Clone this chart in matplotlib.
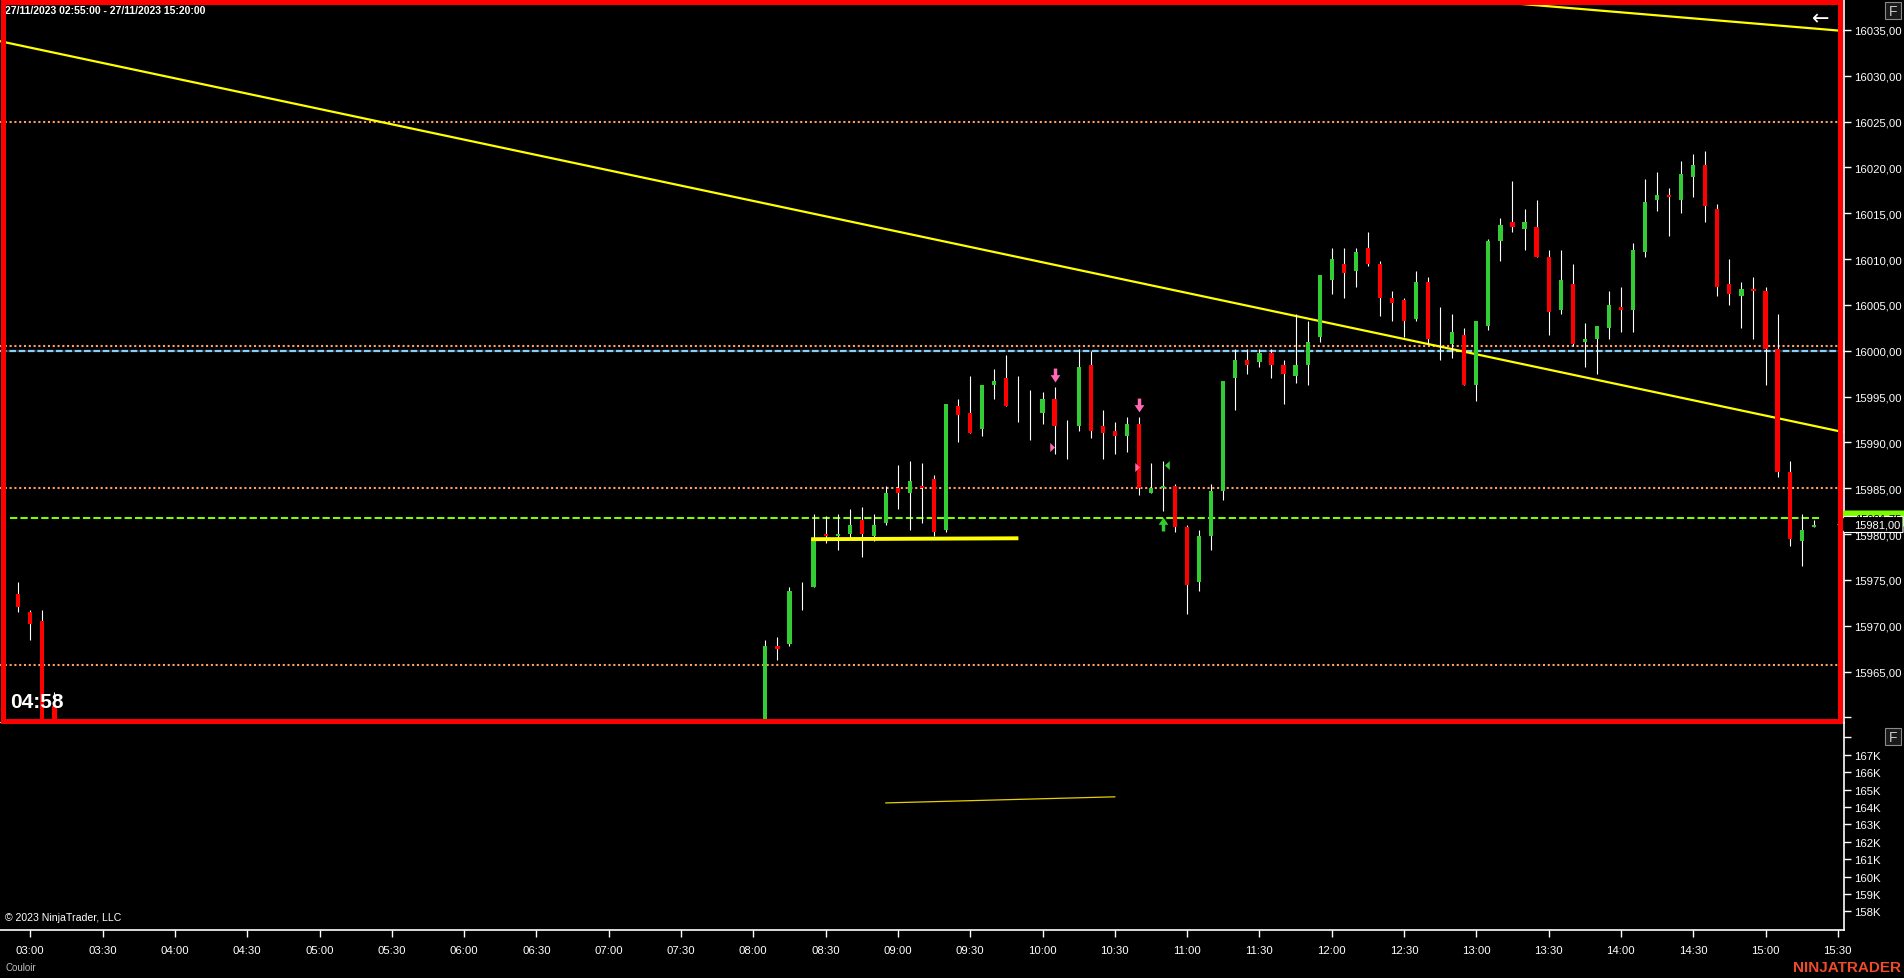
import numpy as np
import matplotlib.pyplot as plt
from matplotlib.patches import Rectangle, Polygon

plt.rcParams['font.family'] = ['Liberation Sans', 'DejaVu Sans']

# ---- data (NQ 5 min bars, 27/11/2023) ----
bar_times = [
    '02:55', '03:00', '03:05', '03:10',
    '08:05', '08:10', '08:15', '08:20', '08:25', '08:30', '08:35', '08:40', '08:45', '08:50', '08:55',
    '09:00', '09:05', '09:10', '09:15', '09:20', '09:25', '09:30', '09:35', '09:40', '09:45', '09:50', '09:55',
    '10:00', '10:05', '10:10', '10:15', '10:20', '10:25', '10:30', '10:35', '10:40', '10:45', '10:50', '10:55',
    '11:00', '11:05', '11:10', '11:15', '11:20', '11:25', '11:30', '11:35', '11:40', '11:45', '11:50', '11:55',
    '12:00', '12:05', '12:10', '12:15', '12:20', '12:25', '12:30', '12:35', '12:40', '12:45', '12:50', '12:55',
    '13:00', '13:05', '13:10', '13:15', '13:20', '13:25', '13:30', '13:35', '13:40', '13:45', '13:50', '13:55',
    '14:00', '14:05', '14:10', '14:15', '14:20', '14:25', '14:30', '14:35', '14:40', '14:45', '14:50', '14:55',
    '15:00', '15:05', '15:10', '15:15', '15:20',
]
opens = [
    15973.5, 15971.5, 15970.5, 15961.25,
    15958.0, 15967.75, 15968.0, 15974.0, 15974.25, 15980.0, 15979.75, 15980.0, 15981.5, 15979.75, 15981.25,
    15985.0, 15984.5, 15985.25, 15986.0, 15980.5, 15994.0, 15993.25, 15991.5, 15996.25, 15997.0, 15995.0, 15993.0,
    15993.25, 15994.75, 15990.0, 15991.75, 15998.5, 15991.75, 15991.25, 15990.75, 15992.0, 15984.5, 15985.0, 15985.25,
    15980.75, 15974.75, 15979.75, 15984.75, 15997.0, 15999.0, 15998.75, 15999.75, 15998.5, 15997.25, 15998.5, 16001.5,
    16007.75, 16009.5, 16008.75, 16011.25, 16009.5, 16005.75, 16005.5, 16003.5, 16007.5, 16001.0, 16000.75, 16001.75,
    15996.25, 16002.75, 16012.0, 16014.0, 16013.25, 16013.5, 16010.25, 16004.5, 16007.25, 16001.0, 16001.25, 16002.5,
    16004.75, 16004.5, 16010.75, 16016.5, 16017.0, 16016.5, 16019.0, 16020.25, 16015.5, 16007.25, 16006.0, 16006.75,
    16006.5, 16000.25, 15986.75, 15979.25, 15980.75,
]
highs = [
    15974.75, 15971.75, 15971.75, 15962.75,
    15968.5, 15968.75, 15974.25, 15974.75, 15982.25, 15982.0, 15982.25, 15982.75, 15983.0, 15982.25, 15985.25,
    15987.5, 15988.0, 15987.75, 15986.5, 15994.25, 15994.75, 15997.25, 15996.25, 15998.0, 15999.5, 15997.25, 15995.75,
    15995.5, 15996.0, 15992.5, 16000.25, 16000.0, 15993.5, 15992.25, 15992.75, 15992.75, 15987.75, 15988.0, 15985.5,
    15981.0, 15980.5, 15985.5, 15996.75, 16000.25, 16000.25, 16000.25, 16000.25, 15999.0, 16004.0, 16003.25, 16008.25,
    16011.25, 16011.25, 16011.25, 16013.0, 16009.75, 16006.5, 16005.75, 16008.75, 16008.0, 16004.75, 16004.0, 16002.5,
    16003.25, 16012.25, 16014.5, 16018.5, 16015.5, 16016.5, 16011.0, 16011.0, 16009.5, 16003.0, 16002.75, 16006.5,
    16007.0, 16011.75, 16018.75, 16019.5, 16017.75, 16020.75, 16021.5, 16021.75, 16016.0, 16010.0, 16007.5, 16008.0,
    16007.0, 16004.0, 15988.0, 15982.25, 15981.5,
]
lows = [
    15971.5, 15968.5, 15957.0, 15955.0,
    15957.0, 15966.25, 15967.75, 15971.75, 15974.25, 15979.0, 15978.25, 15979.5, 15977.5, 15979.25, 15981.0,
    15982.75, 15980.5, 15981.25, 15979.75, 15980.25, 15990.0, 15991.0, 15990.75, 15994.75, 15994.0, 15992.25, 15990.25,
    15992.0, 15988.75, 15988.25, 15991.25, 15990.5, 15988.25, 15988.75, 15989.0, 15984.25, 15984.5, 15982.5, 15980.25,
    15971.25, 15973.75, 15978.25, 15983.75, 15993.5, 15997.5, 15998.25, 15997.0, 15994.25, 15996.5, 15996.25, 16001.0,
    16006.25, 16005.75, 16007.0, 16009.25, 16003.75, 16003.25, 16001.5, 16003.25, 16000.75, 15999.0, 15999.25, 15996.25,
    15994.5, 16002.25, 16009.75, 16013.0, 16011.0, 16010.25, 16001.75, 16004.0, 16000.5, 15998.25, 15997.5, 16001.25,
    16002.0, 16002.0, 16010.25, 16015.25, 16012.5, 16015.0, 16016.75, 16014.0, 16006.0, 16005.0, 16002.5, 16001.25,
    15996.25, 15986.25, 15978.75, 15976.5, 15980.75,
]
closes = [
    15972.0, 15970.25, 15958.0, 15956.0,
    15967.75, 15967.5, 15973.75, 15974.0, 15979.5, 15979.75, 15980.0, 15981.0, 15980.0, 15981.0, 15984.5,
    15984.5, 15985.75, 15985.0, 15980.25, 15994.25, 15993.0, 15991.0, 15996.25, 15996.75, 15994.0, 15995.0, 15993.0,
    15994.75, 15991.75, 15990.0, 15998.25, 15991.25, 15991.0, 15990.75, 15992.0, 15985.0, 15985.0, 15985.25, 15980.75,
    15974.5, 15979.75, 15984.75, 15996.75, 15999.0, 15998.5, 15999.75, 15998.5, 15997.5, 15998.5, 16001.0, 16008.25,
    16010.0, 16008.5, 16010.75, 16009.5, 16005.75, 16005.25, 16003.25, 16007.5, 16001.25, 16001.0, 16002.0, 15996.25,
    16003.25, 16012.0, 16013.75, 16013.5, 16014.0, 16010.25, 16004.25, 16007.75, 16000.75, 16001.25, 16002.75, 16005.0,
    16004.5, 16011.0, 16016.25, 16017.0, 16016.75, 16019.25, 16020.25, 16015.75, 16007.0, 16006.25, 16006.75, 16006.5,
    16000.25, 15986.75, 15979.5, 15980.5, 15981.0,
]

dotted_levels = [16025.0, 16000.5, 15985.0, 15965.75]
blue_level = 16000.0
last_level = 15981.75
last_span = ['02:51:30', '15:22:00']
last_price = 15981.0

trend_long_t = ['02:47', '15:32']
trend_long_p = [16033.8, 15991.15]
trend_top_t = ['12:35', '15:32']
trend_top_p = [16038.8, 16034.9]
support_t = ['08:24', '09:50']
support_p = [15979.45, 15979.55]

down_arrow_t = ['10:05', '10:40']
down_arrow_p = [15997.4, 15994.1]
pink_tri_t = ['10:03:50', '10:39:05']
pink_tri_p = [15989.5, 15987.3]
green_tri_t = ['10:51:30']
green_tri_p = [15987.5]
up_arrow_t = ['10:50']
up_arrow_p = [15981.1]

price_ticks = [15960, 15965, 15970, 15975, 15980, 15985, 15990, 15995,
               16000, 16005, 16010, 16015, 16020, 16025, 16030, 16035]
vol_ticks = [158000, 159000, 160000, 161000, 162000, 163000, 164000,
             165000, 166000, 167000, 168000]
vol_line_t = ['08:55', '10:30']
vol_line_v = [164230, 164580]
time_labels = ['03:00', '03:30', '04:00', '04:30', '05:00', '05:30', '06:00', '06:30',
               '07:00', '07:30', '08:00', '08:30', '09:00', '09:30', '10:00', '10:30',
               '11:00', '11:30', '12:00', '12:30', '13:00', '13:30', '14:00', '14:30',
               '15:00', '15:30']

# ---- layout (pixels of the 1904x979 screenshot) ----
W, H = 1904, 979
X0 = 30.3       # pixel of 03:00
PPM = 2.41      # pixels per minute
PANEL_R = 1844
MAIN_B = 724
LOW_B = 931
GREEN = '#32CD32'
RED = '#FF0000'
PINK = '#FF69B4'


def to_min(s):
    parts = [int(v) for v in s.split(':')]
    sec = parts[2] if len(parts) > 2 else 0
    return (parts[0] - 3) * 60 + parts[1] + sec / 60.0


def fx(px):
    return px / W


def fy(py):
    return 1 - py / H


fig = plt.figure(figsize=(W / 100, H / 100), dpi=100, facecolor='black')
ax = fig.add_axes([0, fy(MAIN_B), fx(PANEL_R), MAIN_B / H])
vax = fig.add_axes([0, fy(LOW_B), fx(PANEL_R), (LOW_B - MAIN_B) / H])

for a in (ax, vax):
    a.set_facecolor('black')
    a.spines['left'].set_visible(False)
    a.spines['top'].set_visible(False)
    a.spines['right'].set_color('white')
    a.spines['bottom'].set_color('white')
    a.spines['right'].set_linewidth(1.2)
    a.spines['bottom'].set_linewidth(1.2)
    a.set_xlim(-X0 / PPM, (PANEL_R - X0) / PPM)
    a.yaxis.tick_right()
    a.tick_params(axis='y', colors='white', length=5, width=1, pad=2, labelsize=8.2)

# ---- price panel ----
ax.set_ylim(15959.4, 16038.38)
ax.set_yticks(price_ticks)
ax.set_yticklabels(['' if v == 15960 else f'{v:.2f}'.replace('.', ',') for v in price_ticks])
ax.tick_params(axis='x', bottom=False, labelbottom=False)

for lvl in dotted_levels:
    ax.axhline(lvl, color='#FFA060', lw=1.5, linestyle=(0, (1, 1.3)), zorder=1)
ax.axhline(blue_level, color='#87CEFA', lw=1.6, linestyle=(0, (3, 1.2)), gapcolor='#303030', zorder=1)
ax.plot([to_min(s) for s in last_span], [last_level, last_level], color='#7CFC00', lw=1.5,
        linestyle=(0, (3.5, 1.5)), zorder=1)

ax.plot([to_min(s) for s in trend_long_t], trend_long_p, color='#FFFF00', lw=1.6, zorder=2)
ax.plot([to_min(s) for s in trend_top_t], trend_top_p, color='#FFFF00', lw=1.6, zorder=2)
ax.plot([to_min(s) for s in support_t], support_p, color='#FFFF00', lw=2.8,
        solid_capstyle='butt', zorder=4)

t = np.array([to_min(s) for s in bar_times])
o = np.array(opens)
c = np.array(closes)
colors = [GREEN if cc >= oo else RED for oo, cc in zip(o, c)]
ax.vlines(t, lows, highs, color='white', lw=0.8, zorder=3)
ax.bar(t, np.abs(c - o), width=4.2 / PPM, bottom=np.minimum(o, c), color=colors,
       linewidth=0, zorder=3)

# signal markers
down_verts = [(-0.25, 1.0), (0.25, 1.0), (0.25, 0.05), (0.7, 0.05), (0.0, -1.0), (-0.7, 0.05), (-0.25, 0.05)]
up_verts = [(x, -y) for x, y in down_verts]
ax.plot([to_min(s) for s in down_arrow_t], down_arrow_p, linestyle='none', marker=down_verts,
        markersize=10, color=PINK, markeredgewidth=0, zorder=5)
ax.plot([to_min(s) for s in up_arrow_t], up_arrow_p, linestyle='none', marker=up_verts,
        markersize=10, color=GREEN, markeredgewidth=0, zorder=5)
ax.plot([to_min(s) for s in pink_tri_t], pink_tri_p, linestyle='none',
        marker=[(-0.5, -1), (0.55, 0), (-0.5, 1)], markersize=6.5, color=PINK, markeredgewidth=0, zorder=5)
ax.plot([to_min(s) for s in green_tri_t], green_tri_p, linestyle='none',
        marker=[(0.5, -1), (-0.55, 0), (0.5, 1)], markersize=6.5, color=GREEN, markeredgewidth=0, zorder=5)

# ---- lower panel ----
vax.set_ylim(156930, 168820)
vax.set_yticks(vol_ticks)
vax.set_yticklabels(['' if v == 168000 else f'{v // 1000}K' for v in vol_ticks])
vax.plot([to_min(s) for s in vol_line_t], vol_line_v, color='#E8D000', lw=0.9)
vax.set_xticks([to_min(s) for s in time_labels])
vax.set_xticklabels(time_labels)
vax.tick_params(axis='x', colors='white', length=5, width=1, pad=6, labelsize=8.2)

# ---- frame, labels and overlays ----
fig.add_artist(Rectangle((fx(2.5), fy(721.5)), fx(1837), 719 / H, transform=fig.transFigure,
                         fill=False, edgecolor='red', linewidth=3.6, zorder=10))

fig.text(fx(5), fy(11), '27/11/2023 02:55:00 - 27/11/2023 15:20:00', color='white',
         fontsize=7.5, fontweight='bold', va='center', ha='left')
fig.text(fx(10), fy(702), '04:58', color='white', fontsize=15, fontweight='bold', va='center')
fig.text(fx(1821), fy(19), '\u2190', color='white', fontsize=15, va='center', ha='center',
         family=['DejaVu Sans'])
fig.text(fx(5), fy(918), '\u00a9 2023 NinjaTrader, LLC', color='white', fontsize=7.6, va='center')
fig.text(fx(5), fy(968), 'Couloir', color='#c0c0c0', fontsize=7, va='center')
fig.text(fx(1901), fy(968), 'NINJATRADER', color='#EE4B2B', fontsize=11, fontweight='bold',
         va='center', ha='right')

for top in (3, 729):
    fig.add_artist(Rectangle((fx(1885), fy(top + 17)), fx(16), 17 / H, transform=fig.transFigure,
                             facecolor='#1a1a1a', edgecolor='#8a8a8a', linewidth=0.8))
    fig.text(fx(1893), fy(top + 8.5), 'F', color='#c8c8c8', fontsize=10, va='center', ha='center')

# last price markers on the axis
green_box = [(1838, 519.5), (1844, 511.5), (1904, 511.5), (1904, 527.5), (1844, 527.5)]
fig.add_artist(Polygon([(fx(x), fy(y)) for x, y in green_box], transform=fig.transFigure,
                       facecolor='#7CFC00', edgecolor='none'))
fig.text(fx(1855), fy(519), f'{last_level:.2f}'.replace('.', ','), color='black', fontsize=8,
         va='center', ha='left')
last_box = [(1838, 525.5), (1844, 517.5), (1903, 517.5), (1903, 533.5), (1844, 533.5)]
fig.add_artist(Polygon([(fx(x), fy(y)) for x, y in last_box], transform=fig.transFigure,
                       facecolor='black', edgecolor='white', linewidth=0.8))
fig.text(fx(1854), fy(526), f'{last_price:.2f}'.replace('.', ','), color='white', fontsize=8,
         va='center', ha='left')

fig.savefig('out.png', dpi=100, facecolor='black')
